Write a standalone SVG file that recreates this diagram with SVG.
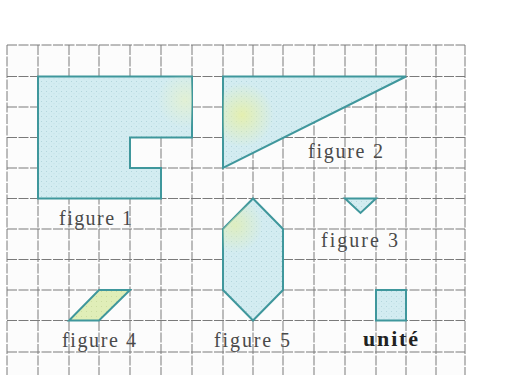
<svg xmlns="http://www.w3.org/2000/svg" width="506" height="375" viewBox="0 0 506 375">
  <defs>
    <pattern id="dots" width="5" height="5" patternUnits="userSpaceOnUse">
      <rect width="5" height="5" fill="#d3ecf1"/>
      <circle cx="1.5" cy="1.5" r="0.5" fill="#a9cfd6"/>
      <circle cx="4" cy="3.8" r="0.45" fill="#b3d6dc"/>
    </pattern>
    <pattern id="dotsY" width="5" height="5" patternUnits="userSpaceOnUse">
      <rect width="5" height="5" fill="#e0eeb8"/>
      <circle cx="1.5" cy="1.5" r="0.5" fill="#c4d898"/>
    </pattern>
    <radialGradient id="spot2" cx="242" cy="115" r="32" gradientUnits="userSpaceOnUse">
      <stop offset="0" stop-color="#eaf09a" stop-opacity="0.75"/>
      <stop offset="1" stop-color="#eaf09a" stop-opacity="0"/>
    </radialGradient>
    <radialGradient id="spot5" cx="235" cy="225" r="28" gradientUnits="userSpaceOnUse">
      <stop offset="0" stop-color="#e3eeaa" stop-opacity="0.7"/>
      <stop offset="1" stop-color="#e3eeaa" stop-opacity="0"/>
    </radialGradient>
    <radialGradient id="spot1" cx="185" cy="100" r="28" gradientUnits="userSpaceOnUse">
      <stop offset="0" stop-color="#e8f2c8" stop-opacity="0.7"/>
      <stop offset="1" stop-color="#e8f2c8" stop-opacity="0"/>
    </radialGradient>
  </defs>
  <style>
    .grid line { stroke: #7a7a7a; stroke-width: 1; stroke-dasharray: 10 1.5; }
    .shape { stroke: #3f979c; stroke-width: 2; stroke-linejoin: miter; }
    .lbl { font-family: "Liberation Serif", "DejaVu Serif", serif; font-size: 20px; fill: #4a4a4a; }
    .bold { font-weight: bold; font-size: 22px; fill: #222; }
  </style>
  <rect width="506" height="375" fill="#ffffff"/>
  <rect x="7" y="45" width="458" height="330" fill="#fcfcfc"/>
  <g id="grid" class="grid">
    <line x1="7" y1="45" x2="7" y2="375"/>
    <line x1="38" y1="45" x2="38" y2="375"/>
    <line x1="69" y1="45" x2="69" y2="375"/>
    <line x1="99" y1="45" x2="99" y2="375"/>
    <line x1="130" y1="45" x2="130" y2="375"/>
    <line x1="161" y1="45" x2="161" y2="375"/>
    <line x1="192" y1="45" x2="192" y2="375"/>
    <line x1="223" y1="45" x2="223" y2="375"/>
    <line x1="253" y1="45" x2="253" y2="375"/>
    <line x1="283" y1="45" x2="283" y2="375"/>
    <line x1="314" y1="45" x2="314" y2="375"/>
    <line x1="345" y1="45" x2="345" y2="375"/>
    <line x1="376" y1="45" x2="376" y2="375"/>
    <line x1="406" y1="45" x2="406" y2="375"/>
    <line x1="436" y1="45" x2="436" y2="375"/>
    <line x1="465" y1="45" x2="465" y2="375"/>
    <line x1="7" y1="45" x2="465" y2="45"/>
    <line x1="7" y1="76.5" x2="465" y2="76.5"/>
    <line x1="7" y1="107" x2="465" y2="107"/>
    <line x1="7" y1="137.5" x2="465" y2="137.5"/>
    <line x1="7" y1="168" x2="465" y2="168"/>
    <line x1="7" y1="198.5" x2="465" y2="198.5"/>
    <line x1="7" y1="229" x2="465" y2="229"/>
    <line x1="7" y1="259.5" x2="465" y2="259.5"/>
    <line x1="7" y1="290" x2="465" y2="290"/>
    <line x1="7" y1="320.5" x2="465" y2="320.5"/>
    <line x1="7" y1="352" x2="465" y2="352"/>
  </g>
  <g id="figure1">
    <polygon class="shape" fill="url(#dots)" points="38,76.5 192,76.5 192,137.5 130,137.5 130,168 161,168 161,198.5 38,198.5"/>
    <polygon fill="url(#spot1)" points="38,76.5 192,76.5 192,137.5 130,137.5 130,168 161,168 161,198.5 38,198.5"/>
    <text class="lbl" x="59" y="225" textLength="73" lengthAdjust="spacing">figure 1</text>
  </g>
  <g id="figure2">
    <polygon class="shape" fill="url(#dots)" points="223,76.5 406,76.5 223,168"/>
    <polygon fill="url(#spot2)" points="223,76.5 406,76.5 223,168"/>
    <text class="lbl" x="308" y="158" textLength="75" lengthAdjust="spacing">figure 2</text>
  </g>
  <g id="figure3">
    <polygon class="shape" fill="url(#dots)" points="345,198.5 376,198.5 360.5,213"/>
    <text class="lbl" x="321" y="247" textLength="77" lengthAdjust="spacing">figure 3</text>
  </g>
  <g id="figure4">
    <polygon class="shape" fill="url(#dotsY)" points="69,320.5 99,320.5 130,290 99,290"/>
    <text class="lbl" x="62" y="347" textLength="74" lengthAdjust="spacing">figure 4</text>
  </g>
  <g id="figure5">
    <polygon class="shape" fill="url(#dots)" points="253,198.5 283,229 283,290 253,320.5 223,290 223,229"/>
    <polygon fill="url(#spot5)" points="253,198.5 283,229 283,290 253,320.5 223,290 223,229"/>
    <text class="lbl" x="214" y="347" textLength="76" lengthAdjust="spacing">figure 5</text>
  </g>
  <g id="unite">
    <rect class="shape" fill="url(#dots)" x="376" y="290" width="30" height="30.5"/>
    <text class="lbl bold" x="363" y="346" textLength="55" lengthAdjust="spacing">unité</text>
  </g>
</svg>
